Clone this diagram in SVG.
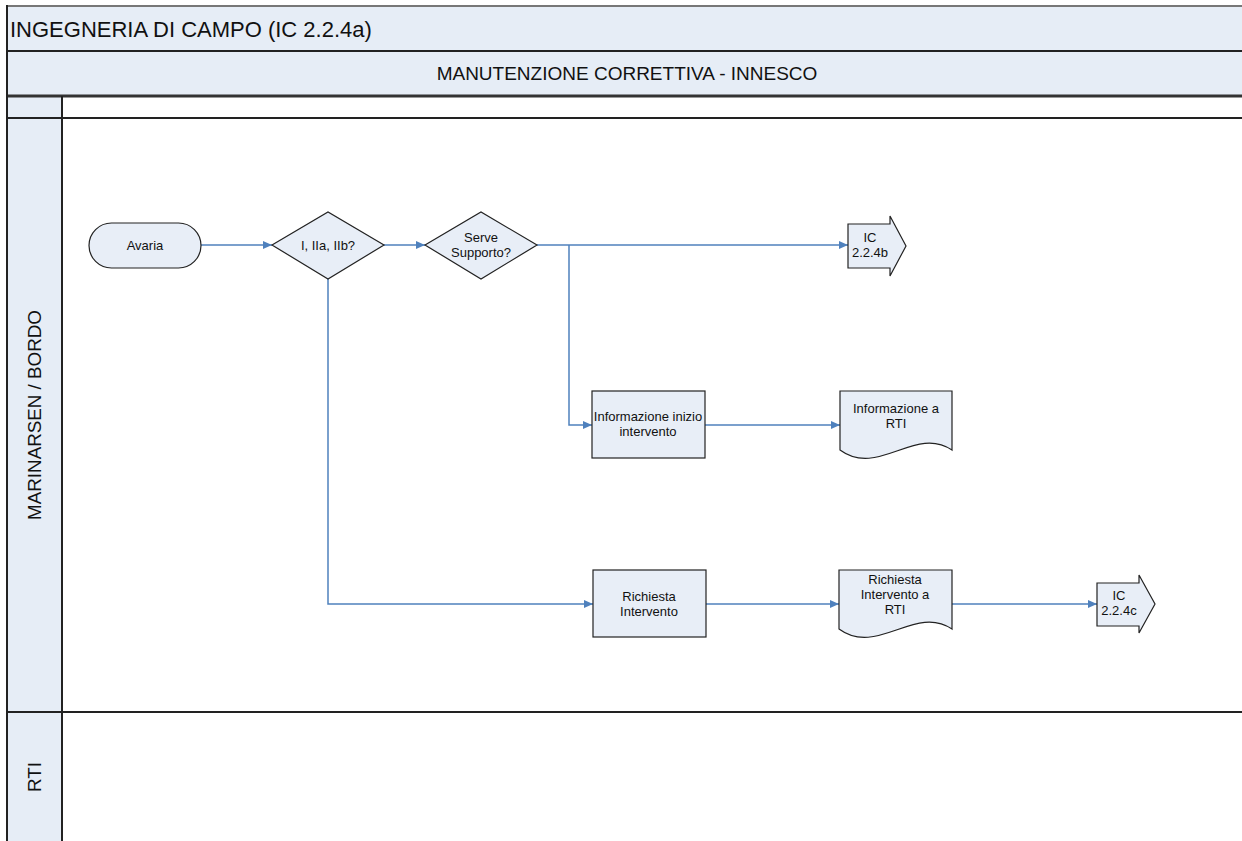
<svg xmlns="http://www.w3.org/2000/svg" width="1242" height="841" viewBox="0 0 1242 841">
<style>
.band{fill:#e6edf6;}
.frame{stroke:#222;stroke-width:2;fill:none;}
.node{fill:#e8eef7;stroke:#222;stroke-width:1.2;}
.t{font-family:"Liberation Sans",Arial,sans-serif;font-size:13px;fill:#111;text-anchor:middle;}
.c{stroke:#4f81bd;stroke-width:1.5;fill:none;marker-end:url(#ah);}
</style>
<defs>
<marker id="ah" markerWidth="10" markerHeight="8" refX="9" refY="4" orient="auto" markerUnits="userSpaceOnUse">
<path d="M0,0 L9,4 L0,8 Z" fill="#4f81bd"/>
</marker>
</defs>
<rect width="1242" height="841" fill="#fff"/>
<g id="pool">
<rect class="band" x="7" y="6" width="1235" height="90"/>
<rect class="band" x="7" y="96" width="55" height="745"/>
<line x1="7" y1="6" x2="1242" y2="6" stroke="#777" stroke-width="2"/>
<line x1="7" y1="51" x2="1242" y2="51" stroke="#222" stroke-width="2"/>
<line x1="7" y1="96" x2="1242" y2="96" stroke="#333" stroke-width="3"/>
<line x1="7" y1="118" x2="1242" y2="118" class="frame"/>
<line x1="7" y1="712" x2="1242" y2="712" class="frame"/>
<line x1="7" y1="5" x2="7" y2="841" class="frame"/>
<line x1="62" y1="96" x2="62" y2="841" class="frame"/>
<text x="10" y="37" font-family="'Liberation Sans',Arial,sans-serif" font-size="22" fill="#111">INGEGNERIA DI CAMPO (IC 2.2.4a)</text>
<text x="627" y="80" font-family="'Liberation Sans',Arial,sans-serif" font-size="19" fill="#111" text-anchor="middle">MANUTENZIONE CORRETTIVA - INNESCO</text>
<text transform="translate(41,415) rotate(-90)" font-family="'Liberation Sans',Arial,sans-serif" font-size="18.8" fill="#111" text-anchor="middle">MARINARSEN / BORDO</text>
<text transform="translate(41,777) rotate(-90)" font-family="'Liberation Sans',Arial,sans-serif" font-size="18.8" fill="#111" text-anchor="middle">RTI</text>
</g>
<g id="connectors">
<line class="c" x1="201" y1="245" x2="272" y2="245"/>
<line class="c" x1="384" y1="245" x2="425" y2="245"/>
<line class="c" x1="537" y1="245" x2="848" y2="245"/>
<polyline class="c" points="569,245 569,425 592,425"/>
<line class="c" x1="705" y1="425" x2="840" y2="425"/>
<polyline class="c" points="328,279 328,604 593,604"/>
<line class="c" x1="706" y1="604" x2="839" y2="604"/>
<line class="c" x1="952" y1="604" x2="1097" y2="604"/>
</g>
<g id="avaria">
<rect class="node" x="89" y="223" width="112" height="45" rx="22.5"/>
<text class="t" x="145" y="250">Avaria</text>
</g>
<g id="d1">
<polygon class="node" points="272,245 328,212 384,245 328,279"/>
<text class="t" x="328" y="250">I, IIa, IIb?</text>
</g>
<g id="d2">
<polygon class="node" points="425,245 481,212 537,245 481,279"/>
<text class="t" x="481" y="242">Serve</text>
<text class="t" x="481" y="257">Supporto?</text>
</g>
<g id="ic224b">
<path class="node" d="M848,224 L890,224 L890,216 L906,246 L890,276 L890,268 L848,268 Z"/>
<text class="t" x="870" y="242">IC</text>
<text class="t" x="870" y="257">2.2.4b</text>
</g>
<g id="info-inizio">
<rect class="node" x="592" y="391" width="113" height="67"/>
<text class="t" x="648" y="421">Informazione inizio</text>
<text class="t" x="648" y="436">intervento</text>
</g>
<g id="info-rti">
<path class="node" d="M840,391 H952 V450 C915,425 878,478 840,450 Z"/>
<text class="t" x="896" y="413">Informazione a</text>
<text class="t" x="896" y="428">RTI</text>
</g>
<g id="richiesta">
<rect class="node" x="593" y="570" width="113" height="67"/>
<text class="t" x="649" y="601">Richiesta</text>
<text class="t" x="649" y="616">Intervento</text>
</g>
<g id="richiesta-rti">
<path class="node" d="M839,570 H952 V629 C915,604 877,657 839,629 Z"/>
<text class="t" x="895" y="584">Richiesta</text>
<text class="t" x="895" y="599">Intervento a</text>
<text class="t" x="895" y="614">RTI</text>
</g>
<g id="ic224c">
<path class="node" d="M1097,583 L1139,583 L1139,575 L1155,604 L1139,633 L1139,626 L1097,626 Z"/>
<text class="t" x="1119" y="600">IC</text>
<text class="t" x="1119" y="615">2.2.4c</text>
</g>
</svg>
